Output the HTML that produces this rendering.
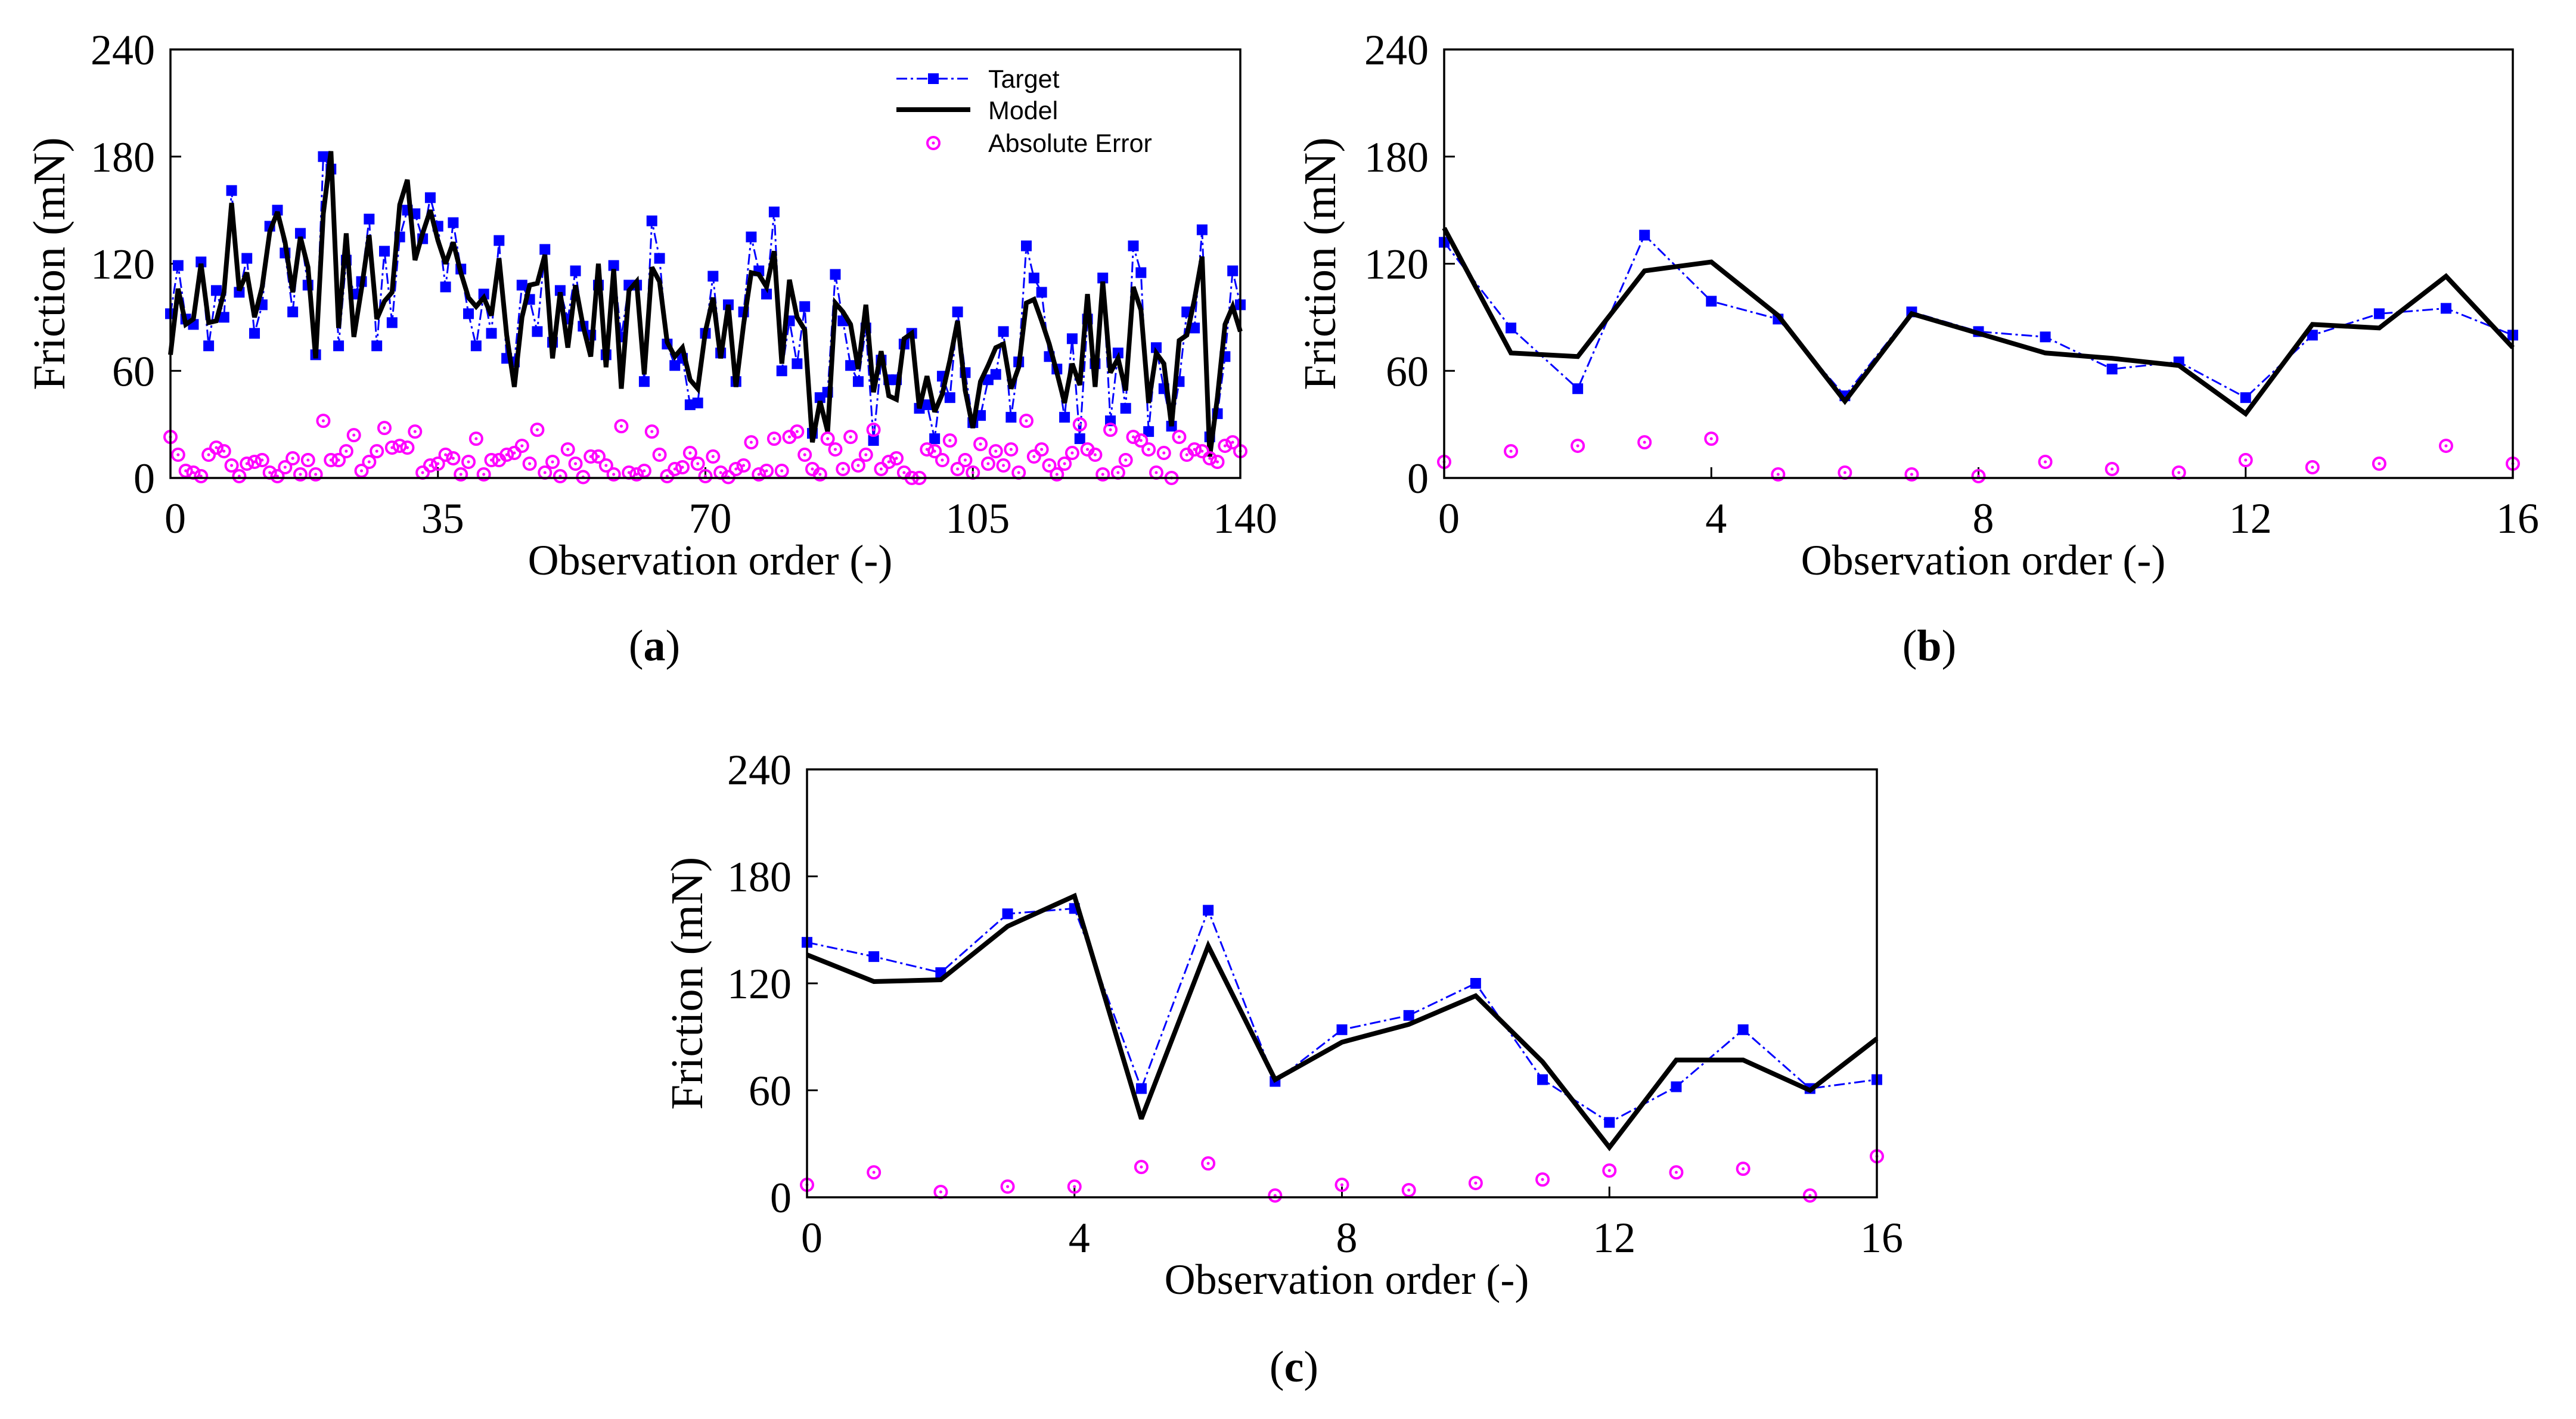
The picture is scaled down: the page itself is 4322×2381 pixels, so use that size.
<!DOCTYPE html>
<html><head><meta charset="utf-8"><style>
html,body{margin:0;padding:0;background:#fff;}
svg{display:block;}
text{font-family:"Liberation Serif",serif;}
.leg{font-family:"Liberation Sans",sans-serif;}
</style></head>
<body>
<svg id="fig" width="4322" height="2381" viewBox="0 0 4322 2381" xmlns="http://www.w3.org/2000/svg"></svg>
<script>
// ---------- Panel (a) data ----------
const targetA = [92,119,89,86,121,74,105,90,161,104,123,81,97,141,150,126,93,137,108,69,180,173,74,122,103,110,145,74,127,87,135,150,148,134,157,141,107,143,117,92,74,103,81,133,67,65,108,100,82,128,76,105,89,116,85,80,108,69,119,79,108,108,54,144,123,75,63,67,41,42,81,113,70,97,54,93,135,116,103,149,60,88,64,96,25,45,48,114,88,63,54,84,21,66,55,55,75,81,39,41,22,57,45,93,59,31,35,55,58,82,34,65,130,112,104,68,61,34,78,22,89,64,112,32,70,39,130,115,26,73,50,29,54,93,84,139,23,36,68,116,97];
const modelA = [69,106,86,89,120,87,88,104,154,105,115,90,107,138,149,132,104,135,118,67,148,183,84,137,79,106,136,89,99,104,153,167,122,137,150,133,120,132,115,101,96,101,91,123,80,51,90,108,109,125,67,104,73,108,85,68,120,62,117,50,105,110,58,118,110,76,68,73,55,50,82,101,67,97,51,86,115,114,107,127,64,111,90,83,20,43,26,98,93,86,61,97,48,71,46,44,78,81,39,57,37,47,66,88,49,28,54,63,73,75,50,62,98,100,88,75,59,42,64,52,103,51,110,59,67,49,107,94,42,70,64,29,77,80,100,124,12,45,86,96,82];
const errorA = [23,13,4,3,1,13,17,15,7,1,8,9,10,3,1,6,11,2,10,2,32,10,10,15,24,4,9,15,28,17,18,17,26,3,7,8,13,11,2,9,22,2,10,10,13,14,18,8,27,3,9,1,16,8,0.5,12,12,7,2,29,3,2,4,26,13,1,5,6,14,8,1,12,3,0.5,5,7,20,2,4,22,4,23,26,13,5,2,22,16,5,23,7,13,27,5,9,11,3,0,0,16,15,10,21,5,10,3,19,8,15,7,16,3,32,12,16,7,2,8,14,30,16,13,2,27,3,10,23,21,16,3,14,0,23,13,16,15,11,9,18,20,15];
// ---------- Panel (b) data ----------
const targetB = [132,84,50,136,99,89,46,93,82,79,61,65,45,80,92,95,80];
const modelB  = [140,70,68,116,121,91,43,92,81,70,67,63,36,86,84,113,73];
const errorB  = [9,15,18,20,22,2,3,2,1,9,5,3,10,6,8,18,8];
// ---------- Panel (c) data ----------
const targetC = [143,135,126,159,162,61,161,65,94,102,120,66,42,62,94,61,66];
const modelC  = [136,121,122,152,169,44,141,66,87,97,113,76,28,77,77,60,89];
const errorC  = [7,14,3,6,6,17,19,1,7,4,8,10,15,14,16,1,23];
// ---------- Axis tick labels ----------
const yTicks = [0,60,120,180,240];
const xTicksA = [0,35,70,105,140];
const xTicksBC = [0,4,8,12,16];

const NS = "http://www.w3.org/2000/svg";
const svg = document.getElementById('fig');
function mk(tag, attrs, parent){
  const e = document.createElementNS(NS, tag);
  for (const k in attrs) e.setAttribute(k, attrs[k]);
  (parent||svg).appendChild(e);
  return e;
}

function panel(cfg){
  const g = mk('g', {});
  
  
  const L=cfg.left, R=cfg.right, T=cfg.top, B=cfg.bottom;
  const xs = v => L + (v - cfg.xmin) / (cfg.xmax - cfg.xmin) * (R - L);
  const ys = v => B - v / 240 * (B - T);

  // y ticks + labels
  yTicks.forEach(v=>{
    const y = ys(v);
    if (v>0 && v<240){
      const t = mk('line',{x1:L,x2:L+18,y1:y,y2:y,stroke:'#000','stroke-width':3},g);
      
      
    }
    const lb = mk('text',{x:L-26,y:y+25,'text-anchor':'end','font-size':72,fill:'#000'},g);
    
    
    lb.textContent = v;
  });
  // x ticks + labels
  cfg.xticks.forEach(v=>{
    const x = xs(v);
    if (v>cfg.xmin && v<cfg.xmax){
      const t = mk('line',{x1:x,x2:x,y1:B,y2:B-18,stroke:'#000','stroke-width':3},g);
      
      
    }
    const lb = mk('text',{x:x+8,y:B+92,'text-anchor':'middle','font-size':72,fill:'#000'},g);
    
    
    lb.textContent = v;
  });
  // axis titles
  const yt = mk('text',{x:0,y:0,'text-anchor':'middle','font-size':76,fill:'#000',
    transform:`translate(${cfg.ytx},${(T+B)/2}) rotate(-90)`},g);
  
  
  yt.textContent = 'Friction (mN)';
  const xt = mk('text',{x:(L+R)/2+8,y:B+162,'text-anchor':'middle','font-size':72,fill:'#000'},g);
  
  
  xt.textContent = 'Observation order (-)';
  const cap = mk('text',{x:cfg.capx,y:cfg.capy,'text-anchor':'middle','font-size':74,fill:'#000'},g);
  
  
  cap.innerHTML = '(<tspan font-weight="bold">'+cfg.letter+'</tspan>)';

  // target line
  const tp = cfg.target.map((v,i)=>xs(i+cfg.xmin)+','+ys(v)).join(' ');
  const tl = mk('polyline',{points:tp,fill:'none',stroke:'#0000ff','stroke-width':3,'stroke-dasharray':'18 6 4 6'},g);
  
  
  cfg.target.forEach((v,i)=>{
    const s = mk('rect',{x:xs(i+cfg.xmin)-9,y:ys(v)-9,width:18,height:18,fill:'#0000ff'},g);
    
    
  });
  // model line
  const mp = cfg.model.map((v,i)=>xs(i+cfg.xmin)+','+ys(v)).join(' ');
  const ml = mk('polyline',{points:mp,fill:'none',stroke:'#000','stroke-width':8,'stroke-linejoin':'miter','stroke-miterlimit':3},g);
  
  
  // error circles
  cfg.error.forEach((v,i)=>{
    const cx = xs(i+cfg.xmin), cy = ys(v);
    const c = mk('circle',{cx:cx,cy:cy,r:10,fill:'none',stroke:'#ff00ff','stroke-width':4},g);
    
    
    const d = mk('circle',{cx:cx,cy:cy,r:2.5,fill:'#ff00ff'},g);
    
    
  });
  // frame
  const fr = mk('rect',{x:L,y:T,width:R-L,height:B-T,fill:'none',stroke:'#000','stroke-width':3.5},g);
  
  
  return g;
}

panel({name:'panel-a',letter:'a',left:286,right:2081,top:83,bottom:802,xmin:0,xmax:140,
  xticks:xTicksA,target:targetA,model:modelA,error:errorA,ytx:108,capx:1098,capy:1108});
panel({name:'panel-b',letter:'b',left:2423,right:4216,top:83,bottom:802,xmin:0,xmax:16,
  xticks:xTicksBC,target:targetB,model:modelB,error:errorB,ytx:2240,capx:3237,capy:1108});
panel({name:'panel-c',letter:'c',left:1354,right:3149,top:1291,bottom:2009,xmin:0,xmax:16,
  xticks:xTicksBC,target:targetC,model:modelC,error:errorC,ytx:1178,capx:2171,capy:2318});

// legend (panel a)
const lg = mk('g',{});


const l1 = mk('line',{x1:1504,x2:1628,y1:132,y2:132,stroke:'#0000ff','stroke-width':3,'stroke-dasharray':'18 6 4 6'},lg);


const l1s = mk('rect',{x:1557,y:123,width:18,height:18,fill:'#0000ff'},lg);


const l2 = mk('line',{x1:1504,x2:1628,y1:184,y2:184,stroke:'#000','stroke-width':8},lg);


const l3 = mk('circle',{cx:1566,cy:240,r:10,fill:'none',stroke:'#ff00ff','stroke-width':4},lg);


const l3d = mk('circle',{cx:1566,cy:240,r:2.5,fill:'#ff00ff'},lg);


[['Target',147],['Model',200],['Absolute Error',255]].forEach(([t,y])=>{
  const e = mk('text',{x:1658,y:y,'font-size':43,fill:'#000',class:'leg'},lg);
  
  
  e.textContent = t;
});
</script>
</body></html>
